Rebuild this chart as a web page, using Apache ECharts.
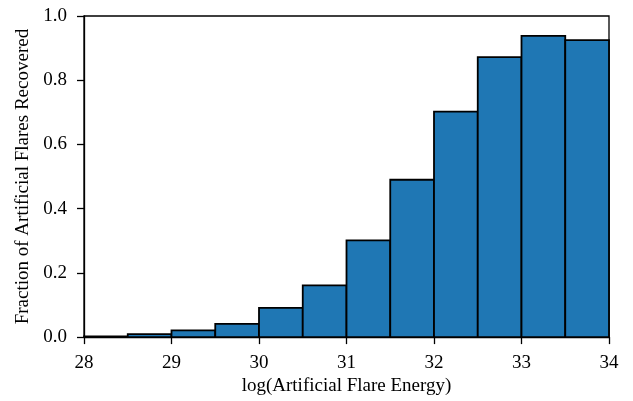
<!DOCTYPE html>
<html>
<head>
<meta charset="utf-8">
<script src="https://cdn.jsdelivr.net/npm/echarts@6/dist/echarts.min.js"></script>
<style>
  html, body { margin: 0; padding: 0; background: #fff; }
  #chart { width: 633px; height: 401px; }
</style>
</head>
<body>
<div id="chart"></div>
<script>
// bin edges (left, right) and recovered fraction
var binStart = [28, 28.5, 29, 29.5, 30, 30.5, 31, 31.5, 32, 32.5, 33, 33.5];
var binEnd = [28.5, 29, 29.5, 30, 30.5, 31, 31.5, 32, 32.5, 33, 33.5, 34];
var fraction = [0.002, 0.009, 0.021, 0.041, 0.091, 0.161, 0.301, 0.49, 0.702, 0.872, 0.938, 0.925];

var font = 'Liberation Serif';

var data = binStart.map(function (s, i) {
  return [s, binEnd[i], fraction[i]];
});

var chart = echarts.init(document.getElementById('chart'));

var option = {
  animation: false,
  grid: {
    left: 84, right: 24, top: 16, bottom: 63,
    show: true, borderColor: '#000', borderWidth: 1.3
  },
  xAxis: {
    type: 'value',
    min: 28, max: 34, interval: 1,
    name: 'log(Artificial Flare Energy)',
    nameLocation: 'middle',
    nameGap: 36,
    nameTextStyle: { fontFamily: font, fontSize: 19, color: '#000' },
    axisLine: { show: true, lineStyle: { color: '#000', width: 1.3 } },
    axisTick: { show: true, length: 7, lineStyle: { color: '#000', width: 1.3 } },
    axisLabel: { fontFamily: font, fontSize: 19, color: '#000', margin: 16 },
    splitLine: { show: false }
  },
  yAxis: {
    type: 'value',
    min: 0, max: 1, interval: 0.2,
    name: 'Fraction of Artificial Flares Recovered',
    nameLocation: 'middle',
    nameGap: 47,
    nameTextStyle: { fontFamily: font, fontSize: 19, color: '#000' },
    axisLine: { show: true, lineStyle: { color: '#000', width: 1.3 } },
    axisTick: { show: true, length: 7, lineStyle: { color: '#000', width: 1.3 } },
    axisLabel: {
      fontFamily: font, fontSize: 19, color: '#000', margin: 17,
      formatter: function (v) { return v.toFixed(1); }
    },
    splitLine: { show: false }
  },
  series: [
    {
      type: 'custom',
      data: data,
      encode: { x: [0, 1], y: 2 },
      renderItem: function (params, api) {
        var p0 = api.coord([api.value(0), 0]);
        var p1 = api.coord([api.value(1), api.value(2)]);
        return {
          type: 'rect',
          shape: { x: p0[0], y: p1[1], width: p1[0] - p0[0], height: p0[1] - p1[1] },
          style: { fill: '#1f77b4', stroke: '#000', lineWidth: 1.8 }
        };
      }
    }
  ]
};

chart.setOption(option);
</script>
</body>
</html>
